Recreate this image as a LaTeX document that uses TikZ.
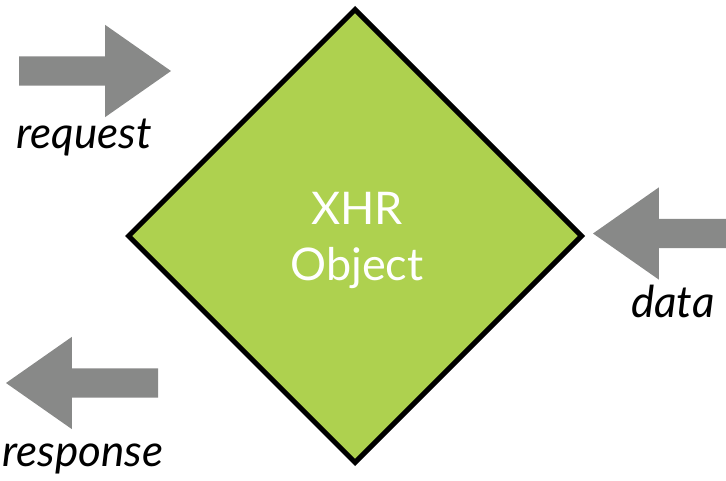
\documentclass[tikz,border=0pt]{standalone}
\usepackage{fontspec}
\setmainfont{Lato}
\usetikzlibrary{shapes.geometric,shapes.arrows}
\definecolor{xhrgreen}{RGB}{174,209,79}
\definecolor{arrowgray}{RGB}{136,137,136}
\tikzset{
  blockarrow/.style={single arrow, draw=none, fill=arrowgray, inner xsep=0pt, inner ysep=14.5pt,
    outer sep=0pt, minimum width=92pt, minimum height=152pt, anchor=tip,
    single arrow head extend=31.5pt, single arrow tip angle=70},
  arrowtext/.style={inner sep=0pt, font=\fontsize{44}{52}\selectfont\itshape},
  xhrtext/.style={inner sep=0pt, anchor=base, text=white, font=\fontsize{45}{52}\selectfont}
}
\begin{document}
\begin{tikzpicture}[x=1pt,y=-1pt]
    \useasboundingbox (0,0) rectangle (726,481);

    \node[diamond, draw, line width=5pt, fill=xhrgreen, inner sep=0pt,
      minimum width=455pt, minimum height=455pt] (xhr) at (355,236) {};
    \node[xhrtext] (xhr1) at (357,225) {XHR};
    \node[xhrtext] (xhr2) at (357,280) {Object};

    \node[blockarrow] (req) at (171,71) {};
    \node[blockarrow, shape border rotate=180, minimum height=140pt] (dat) at (593,233.5) {};
    \node[blockarrow, shape border rotate=180] (resp) at (6,383) {};

    \node[arrowtext, anchor=base west] (reqtext) at (16,149) {request};
    \node[arrowtext, anchor=base west] (dattext) at (631,317) {data};
    \node[arrowtext, anchor=base west] (resptext) at (2,466) {response};
\end{tikzpicture}
\end{document}
